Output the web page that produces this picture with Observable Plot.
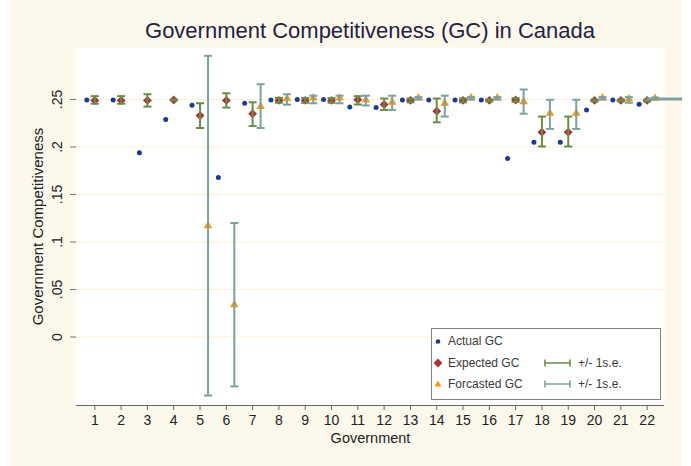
<!DOCTYPE html>
<html><head><meta charset="utf-8">
<script src="https://cdn.jsdelivr.net/npm/d3@7"></script>
<script src="https://cdn.jsdelivr.net/npm/@observablehq/plot@0.6"></script>
<style>
body{margin:0;background:#fff;font-family:"Liberation Sans",Arial,sans-serif;}
#wrap{position:relative;width:691px;height:466px;overflow:hidden;}
#bg{position:absolute;left:10px;top:0;width:672px;height:466px;background:#fdf8ec;}
#title{position:absolute;left:76px;width:588px;top:18px;text-align:center;font-size:22px;color:#1f2244;line-height:26px;}
#chart{position:absolute;left:0;top:0;}
#legend{position:absolute;left:431px;top:328px;width:228px;height:70px;border:1px solid #808080;background:#fff;font-size:12px;color:#3a3a3a;}
#legend .t{position:absolute;line-height:14px;}
#legend svg{position:absolute;left:0;top:0;}
</style></head>
<body>
<div id="wrap">
  <div id="bg"></div>
  <div id="chart"></div>
  <div id="title">Government Competitiveness (GC) in Canada</div>
  <div id="legend">
    <svg width="228" height="70">
      <circle cx="6" cy="12.5" r="2.3" fill="#1c3b8c"/>
      <path d="M6,29.5 L10.4,34 L6,38.5 L1.6,34 Z" fill="#a8323a"/>
      <path d="M6,51.5 L9.5,57.5 L2.5,57.5 Z" fill="#f39a12"/>
      <g stroke="#6b8c48" stroke-width="1.6" fill="none"><path d="M113,34 H138 M113,30.5 V37.5 M138,30.5 V37.5"/></g>
      <g stroke="#7da0a0" stroke-width="1.6" fill="none"><path d="M113,55 H138 M113,51.5 V58.5 M138,51.5 V58.5"/></g>
    </svg>
    <span class="t" style="left:16px;top:5px">Actual GC</span>
    <span class="t" style="left:16px;top:27px">Expected GC</span>
    <span class="t" style="left:146px;top:27px">+/- 1s.e.</span>
    <span class="t" style="left:16px;top:48px">Forcasted GC</span>
    <span class="t" style="left:146px;top:48px">+/- 1s.e.</span>
  </div>
</div>
<script>
// ---- data ----
const government = [1,2,3,4,5,6,7,8,9,10,11,12,13,14,15,16,17,18,19,20,21,22];
const actualGC = [0.2495,0.2495,0.194,0.229,0.244,0.168,0.246,0.2495,0.250,0.250,0.242,0.2415,0.2495,0.2495,0.2495,0.2495,0.188,0.205,0.205,0.239,0.2495,0.245];
const expectedGC = [0.249,0.249,0.249,0.2495,0.233,0.249,0.235,0.249,0.249,0.249,0.2497,0.2447,0.249,0.2377,0.249,0.249,0.2495,0.2156,0.2156,0.249,0.249,0.249];
const expectedLo = [0.2455,0.2455,0.2425,0.2490,0.220,0.2415,0.222,0.2465,0.2465,0.2465,0.2447,0.239,0.2470,0.226,0.2470,0.2480,0.2475,0.2005,0.2005,0.2480,0.2480,0.2480];
const expectedHi = [0.2535,0.2535,0.2555,0.2500,0.246,0.2565,0.247,0.2515,0.2515,0.2515,0.2535,0.251,0.2510,0.251,0.2510,0.2500,0.2515,0.232,0.232,0.2500,0.2500,0.2500];
const forecastGov = [5,6,7,8,9,10,11,12,13,14,15,16,17,18,19,20,21,22];
const forecastGC = [0.117,0.034,0.2426,0.251,0.2515,0.2515,0.2495,0.247,0.2515,0.246,0.2515,0.2515,0.2475,0.2356,0.2356,0.2515,0.2505,0.2510];
const forecastLo = [-0.0616,-0.052,0.220,0.2445,0.246,0.246,0.2437,0.239,0.2500,0.232,0.2500,0.2500,0.235,0.219,0.219,0.2500,0.2465,0.2500];
const forecastHi = [0.296,0.120,0.266,0.2555,0.254,0.254,0.254,0.254,0.2525,0.254,0.2525,0.2525,0.2605,0.2497,0.2497,0.2525,0.2525,0.2520];
const tailX = [22, 23.35];   // horizontal segment running off the right of the plot at government 22
const tailY = [0.2505];
const yTicks = [0, 0.05, 0.1, 0.15, 0.2, 0.25];
const yTickLabels = ["0", ".05", ".1", ".15", ".2", ".25"];
const xDomain = [0.303, 22.66];
const yDomain = [-0.0721, 0.3047];

const actual = government.map((g, i) => ({gov: g, v: actualGC[i]}));
const expected = government.map((g, i) => ({gov: g, v: expectedGC[i], lo: expectedLo[i], hi: expectedHi[i]}));
const forecast = forecastGov.map((g, i) => ({gov: g, v: forecastGC[i], lo: forecastLo[i], hi: forecastHi[i]}));

const NAVY = "#1c3b8c", RED = "#a8323a", ORANGE = "#f39a12", GREEN = "#6b8c48", TEAL = "#7da0a0";
const cap = {draw(ctx) { ctx.moveTo(-4, 0); ctx.lineTo(4, 0); }};

const chart = Plot.plot({
  width: 691, height: 466,
  marginLeft: 76, marginRight: 27, marginTop: 47, marginBottom: 61,
  style: {background: "transparent", fontFamily: "'Liberation Sans', Arial, sans-serif", fontSize: "14px", color: "#222", overflow: "visible"},
  x: {domain: xDomain, label: null},
  y: {domain: yDomain, label: null},
  marks: [
    Plot.frame({fill: "white", stroke: null}),
    Plot.ruleY(yTicks, {stroke: "#fbf0d6", strokeWidth: 1}),
    Plot.ruleY([yDomain[0]], {stroke: "#666", strokeWidth: 1}),
    Plot.axisX({ticks: government, tickFormat: d => String(d), tickSize: 5, tickPadding: 5, stroke: "#666", fill: "#222", fontSize: 14, label: null}),
    Plot.axisY({ticks: yTicks, tickFormat: (d) => yTickLabels[yTicks.indexOf(d)], tickRotate: -90, tickSize: 6, tickPadding: 9, stroke: "#777", fill: "#222", fontSize: 14, label: null}),
    Plot.text(["Government"], {frameAnchor: "bottom", dy: 37, fontSize: 14.5, fill: "#222"}),
    Plot.text(["Government Competitiveness"], {frameAnchor: "left", textAnchor: "middle", dx: -38, rotate: -90, fontSize: 15, fill: "#222"}),
    // actual
    Plot.dot(actual, {x: "gov", y: "v", dx: -8, r: 2.5, fill: NAVY, stroke: null}),
    // expected
    Plot.dot(expected, {x: "gov", y: "v", symbol: "diamond2", r: 4, fill: RED, stroke: null}),
    Plot.ruleX(expected, {x: "gov", y1: "lo", y2: "hi", stroke: GREEN, strokeWidth: 2}),
    Plot.dot(expected, {x: "gov", y: "lo", symbol: cap, fill: "none", stroke: GREEN, strokeWidth: 2}),
    Plot.dot(expected, {x: "gov", y: "hi", symbol: cap, fill: "none", stroke: GREEN, strokeWidth: 2}),
    // forecast
    Plot.ruleY(tailY, {x1: tailX[0], x2: tailX[1], stroke: TEAL, strokeWidth: 3}),
    Plot.dot(forecast, {x: "gov", y: "v", dx: 8, symbol: "triangle", r: 3.2, fill: ORANGE, stroke: null}),
    Plot.ruleX(forecast, {x: "gov", y1: "lo", y2: "hi", dx: 8, stroke: TEAL, strokeWidth: 2}),
    Plot.dot(forecast, {x: "gov", y: "lo", dx: 8, symbol: cap, fill: "none", stroke: TEAL, strokeWidth: 2}),
    Plot.dot(forecast, {x: "gov", y: "hi", dx: 8, symbol: cap, fill: "none", stroke: TEAL, strokeWidth: 2})
  ]
});
document.getElementById("chart").appendChild(chart);
</script>
</body></html>
